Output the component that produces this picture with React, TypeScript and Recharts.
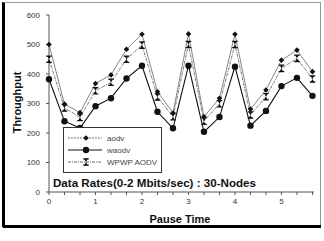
import React from "react";
import { LineChart, Line, XAxis, YAxis, Legend } from "recharts";

const pauseTime = [0, 0.333, 0.667, 1, 1.333, 1.667, 2, 2.333, 2.667, 3, 3.333, 3.667, 4, 4.333, 4.667, 5, 5.333, 5.667];
const aodv = [500, 298, 269, 368, 397, 484, 535, 340, 268, 536, 255, 318, 535, 281, 346, 447, 481, 408];
const waodv = [382, 240, 217, 291, 318, 385, 428, 272, 216, 428, 204, 254, 425, 225, 275, 359, 387, 326];
const wpwpAodv = [450, 285, 253, 343, 372, 450, 498, 322, 255, 500, 240, 299, 500, 261, 323, 419, 453, 383];
const yTicks = [0, 100, 200, 300, 400, 500, 600];

const data = pauseTime.map((t, i) => ({
  t,
  aodv: aodv[i],
  waodv: waodv[i],
  wpwp: wpwpAodv[i],
}));

const FONT = "'Liberation Sans', Arial, sans-serif";

// marker shapes, drawn around (cx, cy)
function Diamond({ cx, cy }: { cx?: number; cy?: number }) {
  if (cx == null || cy == null) return null;
  const s = 2.8;
  return <path d={`M${cx},${cy - s}L${cx + s},${cy}L${cx},${cy + s}L${cx - s},${cy}Z`} fill="#111" />;
}

function Dot({ cx, cy }: { cx?: number; cy?: number }) {
  if (cx == null || cy == null) return null;
  return <circle cx={cx} cy={cy} r={3.2} fill="#111" />;
}

function IBeam({ cx, cy }: { cx?: number; cy?: number }) {
  if (cx == null || cy == null) return null;
  const w = 2.8;
  const h = 3.2;
  return (
    <g>
      <path d={`M${cx - w},${cy - h}H${cx + w}M${cx - w},${cy + h}H${cx + w}`} stroke="#111" strokeWidth={1.2} />
      <path d={`M${cx - 1.8},${cy - h}L${cx + 1.8},${cy - h}L${cx},${cy}L${cx + 1.8},${cy + h}L${cx - 1.8},${cy + h}L${cx},${cy}Z`} fill="#111" />
    </g>
  );
}

const legendRows = [
  { key: "aodv", label: "aodv", stroke: "#777", dash: "2 1", Marker: Diamond },
  { key: "waodv", label: "waodv", stroke: "#111", dash: undefined, Marker: Dot },
  { key: "wpwp", label: "WPWP AODV", stroke: "#666", dash: "3 1 1 1", Marker: IBeam },
];

function LegendBox() {
  return (
    <svg width={97} height={44} style={{ display: "block" }}>
      {legendRows.map((r, i) => {
        const y = 10 + i * 12;
        return (
          <g key={r.key}>
            <line x1={4} x2={38} y1={y} y2={y} stroke={r.stroke} strokeWidth={1} strokeDasharray={r.dash} />
            <r.Marker cx={22} cy={y} />
            <text x={43} y={y + 3} fontSize={8} fill="#444" fontFamily={FONT}>{r.label}</text>
          </g>
        );
      })}
    </svg>
  );
}

export default function App() {
  return (
    <div style={{ position: "absolute", left: 0, top: 0, width: 324, height: 241, background: "#fff" }}>
      <LineChart width={324} height={241} data={data} margin={{ top: 15, right: 10, bottom: 0, left: 0 }}>
        <XAxis
          dataKey="t"
          type="number"
          domain={[0, 5.7]}
          ticks={pauseTime}
          interval={0}
          height={49}
          tickFormatter={(v: number) => (Math.abs(v - Math.round(v)) < 0.01 ? String(Math.round(v)) : "")}
          tick={{ fontSize: 8, fill: "#333", fontFamily: FONT }}
          tickSize={3}
          tickMargin={3}
          stroke="#555"
          label={{
            content: ({ viewBox }: any) => (
              <g>
                <text x={180} y={viewBox.y + 31} textAnchor="middle" fontSize={11} fontWeight="bold" fill="#111" fontFamily={FONT}>
                  Pause Time
                </text>
                <text x={53} y={viewBox.y - 5} fontSize={11.6} fontWeight="bold" fill="#111" fontFamily={FONT}>
                  Data Rates(0-2 Mbits/sec) : 30-Nodes
                </text>
              </g>
            ),
          }}
        />
        <YAxis
          domain={[0, 600]}
          ticks={yTicks}
          width={49}
          tick={{ fontSize: 8, fill: "#333", fontFamily: FONT }}
          tickSize={3}
          tickMargin={6}
          stroke="#555"
          label={{
            content: ({ viewBox }: any) => {
              const cx = 18;
              const cy = viewBox.y + viewBox.height / 2 - 1;
              return (
                <text x={cx} y={cy} transform={`rotate(-90, ${cx}, ${cy})`} textAnchor="middle" dominantBaseline="middle" fontSize={11} fontWeight="bold" fill="#111" fontFamily={FONT}>
                  Throughput
                </text>
              );
            },
          }}
        />
        <Legend
          layout="horizontal"
          align="center"
          verticalAlign="middle"
          wrapperStyle={{ position: "absolute", left: 63, top: 127, width: 97, height: 44, border: "1px solid #333", background: "#fff" }}
          content={() => <LegendBox />}
        />
        <Line dataKey="aodv" name="aodv" stroke="#777" strokeWidth={0.9} dot={<Diamond />} activeDot={false} isAnimationActive={false} />
        <Line dataKey="wpwp" name="WPWP AODV" stroke="#666" strokeWidth={0.9} strokeDasharray="3 1 1 1" dot={<IBeam />} activeDot={false} isAnimationActive={false} />
        <Line dataKey="waodv" name="waodv" stroke="#111" strokeWidth={1.1} dot={<Dot />} activeDot={false} isAnimationActive={false} />
      </LineChart>
      <div style={{ position: "absolute", left: 2, top: 2, width: 315, height: 224, borderTop: "1px solid #999", borderRight: "1px solid #999", borderLeft: "3px solid #000", pointerEvents: "none" }} />
      <div style={{ position: "absolute", left: 3, top: 225, width: 318, height: 3, background: "#000" }} />
    </div>
  );
}
